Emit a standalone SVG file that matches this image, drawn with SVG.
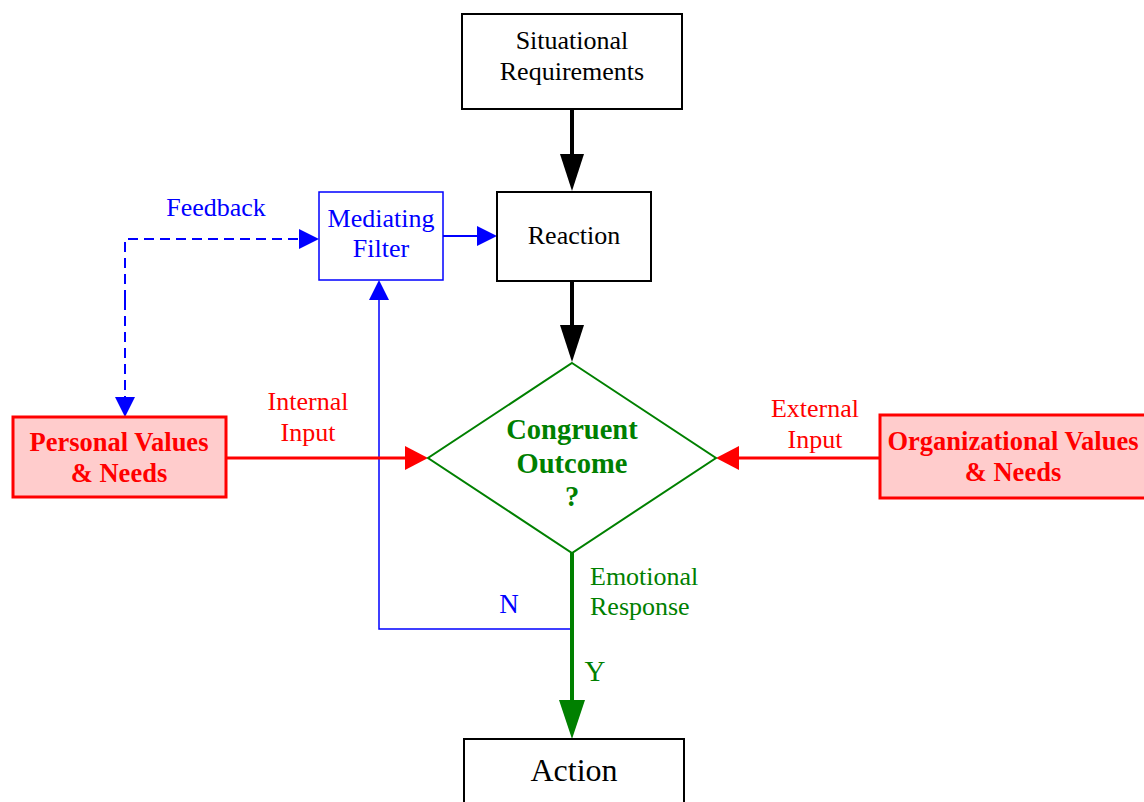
<svg xmlns="http://www.w3.org/2000/svg" width="1144" height="802" viewBox="0 0 1144 802">
  <style>
    text { font-family: "Liberation Serif", "Times New Roman", serif; text-anchor: middle; }
    .box { fill: #ffffff; stroke: #000000; stroke-width: 2; }
    .val { fill: #ffcccc; stroke: #ff0000; stroke-width: 3; }
    .med { fill: #ffffff; stroke: #0000ff; stroke-width: 1.5; }
    .lbl { font-size: 26px; }
    .bold { font-weight: bold; font-size: 26.5px; }
  </style>
  <defs>
    <!-- arrowheads drawn in user units; each line stops at the head's base -->
    <marker id="ahBlack" viewBox="0 0 37 24" refX="0" refY="12" markerWidth="37" markerHeight="24" markerUnits="userSpaceOnUse" orient="auto">
      <path d="M0,0 L37,12 L0,24 z" fill="#000000"/>
    </marker>
    <marker id="ahGreen" viewBox="0 0 39 26" refX="0" refY="13" markerWidth="39" markerHeight="26" markerUnits="userSpaceOnUse" orient="auto">
      <path d="M0,0 L39,13 L0,26 z" fill="#008000"/>
    </marker>
    <marker id="ahRed" viewBox="0 0 23 24" refX="0" refY="12" markerWidth="23" markerHeight="24" markerUnits="userSpaceOnUse" orient="auto">
      <path d="M0,0 L23,12 L0,24 z" fill="#ff0000"/>
    </marker>
    <marker id="ahBlue" viewBox="0 0 20 20" refX="0" refY="10" markerWidth="20" markerHeight="20" markerUnits="userSpaceOnUse" orient="auto">
      <path d="M0,0 L20,10 L0,20 z" fill="#0000ff"/>
    </marker>
  </defs>

  <!-- connectors -->
  <g id="connectors" fill="none">
    <line x1="572" y1="110" x2="572" y2="154" stroke="#000000" stroke-width="4" marker-end="url(#ahBlack)"/>
    <line x1="572" y1="281" x2="572" y2="325" stroke="#000000" stroke-width="4" marker-end="url(#ahBlack)"/>
    <line x1="443" y1="236" x2="477" y2="236" stroke="#0000ff" stroke-width="2" marker-end="url(#ahBlue)"/>
    <polyline points="125,300 125,239 299,239" stroke="#0000ff" stroke-width="2" stroke-dasharray="10,6" marker-end="url(#ahBlue)"/>
    <polyline points="125,300 125,397" stroke="#0000ff" stroke-width="2" stroke-dasharray="10,6" marker-end="url(#ahBlue)"/>
    <polyline points="572,629 379,629 379,300" stroke="#0000ff" stroke-width="1.5" marker-end="url(#ahBlue)"/>
    <line x1="227" y1="458" x2="405" y2="458" stroke="#ff0000" stroke-width="3" marker-end="url(#ahRed)"/>
    <line x1="880" y1="458" x2="739" y2="458" stroke="#ff0000" stroke-width="3" marker-end="url(#ahRed)"/>
    <line x1="572" y1="553" x2="572" y2="700" stroke="#008000" stroke-width="4" marker-end="url(#ahGreen)"/>
  </g>

  <!-- connector labels -->
  <g id="labels" class="lbl">
    <text x="216" y="216" fill="#0000ff">Feedback</text>
    <text x="308" y="410" fill="#ff0000">Internal</text>
    <text x="308" y="441" fill="#ff0000">Input</text>
    <text x="815" y="417" fill="#ff0000">External</text>
    <text x="815" y="448" fill="#ff0000">Input</text>
    <text x="590" y="585" fill="#008000" style="text-anchor:start">Emotional</text>
    <text x="590" y="615" fill="#008000" style="text-anchor:start">Response</text>
    <text x="509" y="613" fill="#0000ff" style="font-size:27px">N</text>
    <text x="595" y="681" fill="#008000" style="font-size:29px">Y</text>
  </g>

  <g id="situational">
    <rect class="box" x="462" y="14" width="220" height="95"/>
    <text class="lbl" x="572" y="49">Situational</text>
    <text class="lbl" x="572" y="80">Requirements</text>
  </g>

  <g id="reaction">
    <rect class="box" x="497" y="192" width="154" height="89"/>
    <text class="lbl" x="574" y="244">Reaction</text>
  </g>

  <g id="mediating">
    <rect class="med" x="319" y="192" width="124" height="88"/>
    <text class="lbl" x="381" y="227" fill="#0000ff">Mediating</text>
    <text class="lbl" x="381" y="257" fill="#0000ff">Filter</text>
  </g>

  <g id="personal">
    <rect class="val" x="13" y="417" width="213" height="80"/>
    <text class="bold" x="119" y="451" fill="#ff0000">Personal Values</text>
    <text class="bold" x="119" y="482" fill="#ff0000">&amp; Needs</text>
  </g>

  <g id="organizational">
    <rect class="val" x="880" y="415" width="266" height="83"/>
    <text class="bold" x="1013" y="450" fill="#ff0000">Organizational Values</text>
    <text class="bold" x="1013" y="481" fill="#ff0000">&amp; Needs</text>
  </g>

  <g id="congruent">
    <polygon points="572,363 716,458 572,553 428,458" fill="#ffffff" stroke="#008000" stroke-width="2"/>
    <text class="bold" x="572" y="439" fill="#008000" style="font-size:28.5px">Congruent</text>
    <text class="bold" x="572" y="473" fill="#008000" style="font-size:28.5px">Outcome</text>
    <text class="bold" x="572" y="506" fill="#008000" style="font-size:28.5px">?</text>
  </g>

  <g id="action">
    <rect class="box" x="464" y="739" width="220" height="70"/>
    <text x="574" y="781" style="font-size:32px">Action</text>
  </g>
</svg>
